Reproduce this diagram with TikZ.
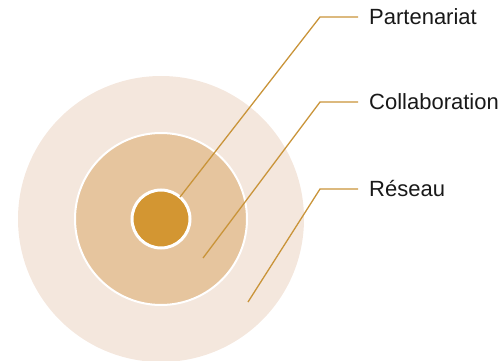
\documentclass[tikz,border=0pt]{standalone}
\usepackage{fontspec}
\setmainfont{Liberation Sans}
\usetikzlibrary{positioning}
\definecolor{reseauC}{HTML}{F4E7DD}
\definecolor{collabC}{HTML}{E6C59E}
\definecolor{partC}{HTML}{D39632}
\definecolor{leadC}{HTML}{C99439}

\begin{document}
\begin{tikzpicture}[
    x=1pt, y=-1pt,
    ring/.style={circle,inner sep=0pt},
    leader/.style={draw=leadC,line width=1.3pt},
    label/.style={anchor=west,inner xsep=11pt,inner ysep=0pt,
      font=\fontsize{22}{25}\selectfont,text=black!90}
  ]
  \useasboundingbox (0,0) rectangle (504,361);

  %% Circles
  \node[ring,fill=reseauC,minimum size=286pt] (res) at (161,219) {};
  \node[ring,fill=collabC,draw=white,line width=2pt,minimum size=172pt] (col) at (res.center) {};
  \node[ring,fill=partC,draw=white,line width=3pt,minimum size=58pt] (par) at (res.center) {};

  %% Leader start points
  \coordinate (pP) at (180,197);
  \coordinate (pC) at (203,258);
  \coordinate (pR) at (248,302);

  %% Labels
  \node[label] (lP) at (358,17)  {Partenariat};
  \node[label] (lC) at (358,102) {Collaboration};
  \node[label] (lR) at (358,189) {Réseau};

  %% Leaders
  \draw[leader] (lP.west) -- ++(-38,0) -- (pP);
  \draw[leader] (lC.west) -- ++(-38,0) -- (pC);
  \draw[leader] (lR.west) -- ++(-38,0) -- (pR);
\end{tikzpicture}
\end{document}
